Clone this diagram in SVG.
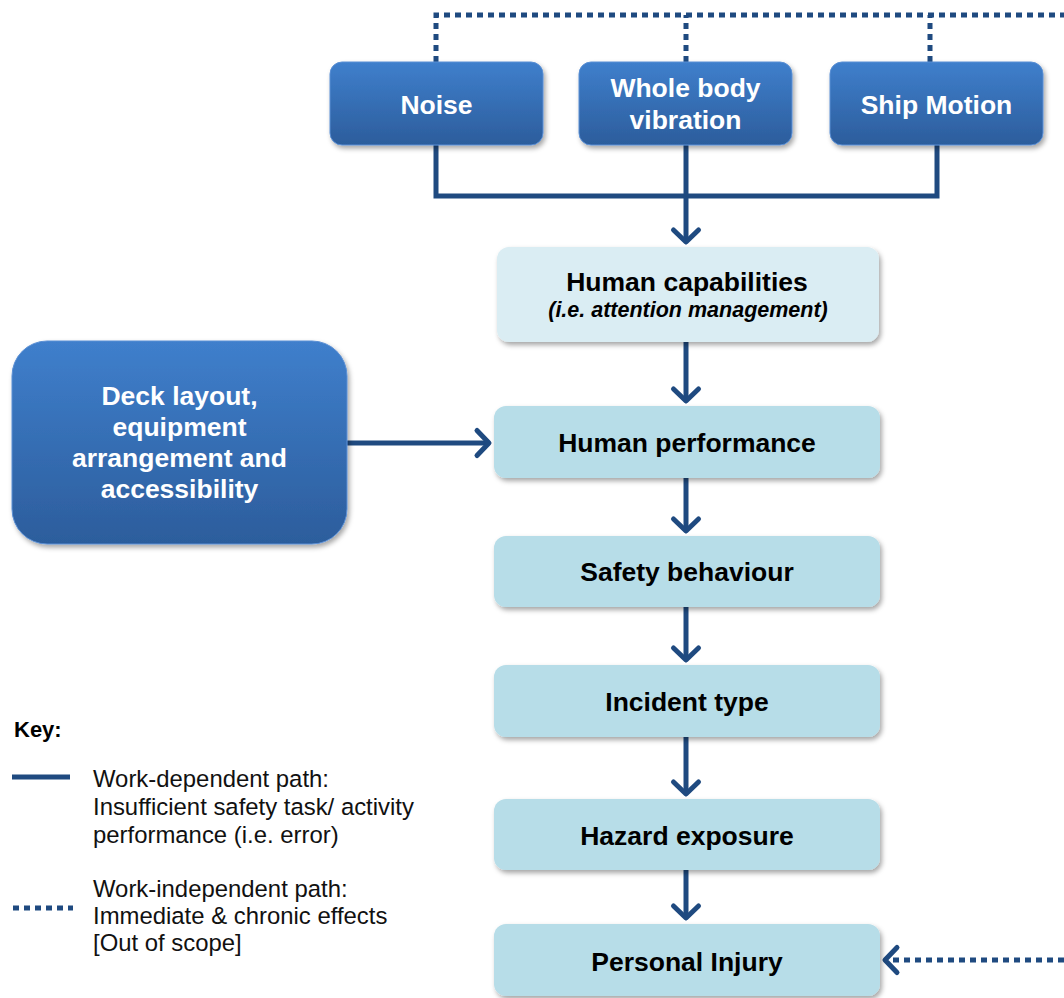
<svg xmlns="http://www.w3.org/2000/svg" width="1064" height="998" viewBox="0 0 1064 998">
<defs>
<linearGradient id="blue" x1="0" y1="0" x2="0" y2="1">
<stop offset="0" stop-color="#3f7fcc"/>
<stop offset="1" stop-color="#2c5d9c"/>
</linearGradient>
<filter id="sh" x="-10%" y="-10%" width="125%" height="135%">
<feDropShadow dx="2" dy="3" stdDeviation="2.5" flood-color="#000" flood-opacity="0.35"/>
</filter>
<marker id="arr" markerUnits="userSpaceOnUse" markerWidth="34" markerHeight="34" viewBox="-17 -17 34 34" refX="0" refY="0" orient="auto">
<path d="M-12,-12.5 L0,0 L-12,12.5" fill="none" stroke="#1f4a80" stroke-width="5" stroke-linecap="round" stroke-linejoin="round"/>
</marker>
<style>
.bb{fill:url(#blue);stroke:#5a8fd4;stroke-width:1;filter:url(#sh)}
.lb{fill:#b7dde8;filter:url(#sh)}
.lc{fill:#daedf3;filter:url(#sh)}
.wt{font-family:"Liberation Sans",Arial,sans-serif;font-weight:bold;font-size:26.5px;fill:#fff;text-anchor:middle}
.bt{font-family:"Liberation Sans",Arial,sans-serif;font-weight:bold;font-size:26.5px;fill:#000;text-anchor:middle}
.it{font-family:"Liberation Sans",Arial,sans-serif;font-weight:bold;font-style:italic;font-size:21.5px;fill:#000;text-anchor:middle}
.kt{font-family:"Liberation Sans",Arial,sans-serif;font-size:23.9px;fill:#111}
.solid{fill:none;stroke:#1f4a80;stroke-width:5}
.dot{fill:none;stroke:#1f4a80;stroke-width:5;stroke-dasharray:6 5}
</style>
</defs>
<rect width="1064" height="998" fill="#fff"/>

<g id="connectors">
<path class="dot" d="M436,62 V15 H1064"/>
<path class="dot" d="M686,62 V15"/>
<path class="dot" d="M930,62 V15"/>
<path class="solid" d="M436,145 V196 H937 V145"/>
<path class="solid" d="M686,145 V242" marker-end="url(#arr)"/>
<path class="solid" d="M686,342 V401" marker-end="url(#arr)"/>
<path class="solid" d="M686,478 V531" marker-end="url(#arr)"/>
<path class="solid" d="M686,607 V660" marker-end="url(#arr)"/>
<path class="solid" d="M686,737 V794" marker-end="url(#arr)"/>
<path class="solid" d="M686,870 V918" marker-end="url(#arr)"/>
<path class="solid" d="M347,443 H489" marker-end="url(#arr)"/>
<path class="dot" d="M1064,960 H885" marker-end="url(#arr)"/>
</g>

<g id="noise">
<rect class="bb" x="330" y="62" width="213" height="83" rx="12"/>
<text class="wt" x="436.5" y="114">Noise</text>
</g>
<g id="vibration">
<rect class="bb" x="579" y="62" width="213" height="83" rx="12"/>
<text class="wt" x="685.5" y="97">Whole body</text>
<text class="wt" x="685.5" y="129">vibration</text>
</g>
<g id="shipmotion">
<rect class="bb" x="830" y="62" width="213" height="83" rx="12"/>
<text class="wt" x="936.5" y="114">Ship Motion</text>
</g>

<g id="capabilities">
<rect class="lc" x="497" y="247" width="382" height="95" rx="12"/>
<text class="bt" x="687" y="291">Human capabilities</text>
<text class="it" x="688" y="317">(i.e. attention management)</text>
</g>

<g id="deck">
<rect class="bb" x="12" y="341" width="335" height="203" rx="35"/>
<text class="wt" x="179.5" y="405">Deck layout,</text>
<text class="wt" x="179.5" y="436">equipment</text>
<text class="wt" x="179.5" y="467">arrangement and</text>
<text class="wt" x="179.5" y="498">accessibility</text>
</g>

<g id="performance">
<rect class="lb" x="494" y="406" width="386" height="72" rx="12"/>
<text class="bt" x="687" y="452">Human performance</text>
</g>
<g id="behaviour">
<rect class="lb" x="494" y="536" width="386" height="71" rx="12"/>
<text class="bt" x="687" y="581">Safety behaviour</text>
</g>
<g id="incident">
<rect class="lb" x="494" y="665" width="386" height="72" rx="12"/>
<text class="bt" x="687" y="711">Incident type</text>
</g>
<g id="hazard">
<rect class="lb" x="494" y="799" width="386" height="71" rx="12"/>
<text class="bt" x="687" y="845">Hazard exposure</text>
</g>
<g id="injury">
<rect class="lb" x="494" y="924" width="386" height="72" rx="12"/>
<text class="bt" x="687" y="971">Personal Injury</text>
</g>

<g id="key">
<text x="14" y="737" font-family="Liberation Sans, Arial, sans-serif" font-weight="bold" font-size="22" fill="#000">Key:</text>
<line class="solid" x1="12" y1="777" x2="70" y2="777" stroke-width="6"/>
<text class="kt" x="93" y="787">Work-dependent path:</text>
<text class="kt" x="93" y="815">Insufficient safety task/ activity</text>
<text class="kt" x="93" y="843">performance (i.e. error)</text>
<line class="dot" x1="13" y1="908" x2="73" y2="908"/>
<text class="kt" x="93" y="897">Work-independent path:</text>
<text class="kt" x="93" y="924">Immediate &amp; chronic effects</text>
<text class="kt" x="93" y="951">[Out of scope]</text>
</g>
</svg>
